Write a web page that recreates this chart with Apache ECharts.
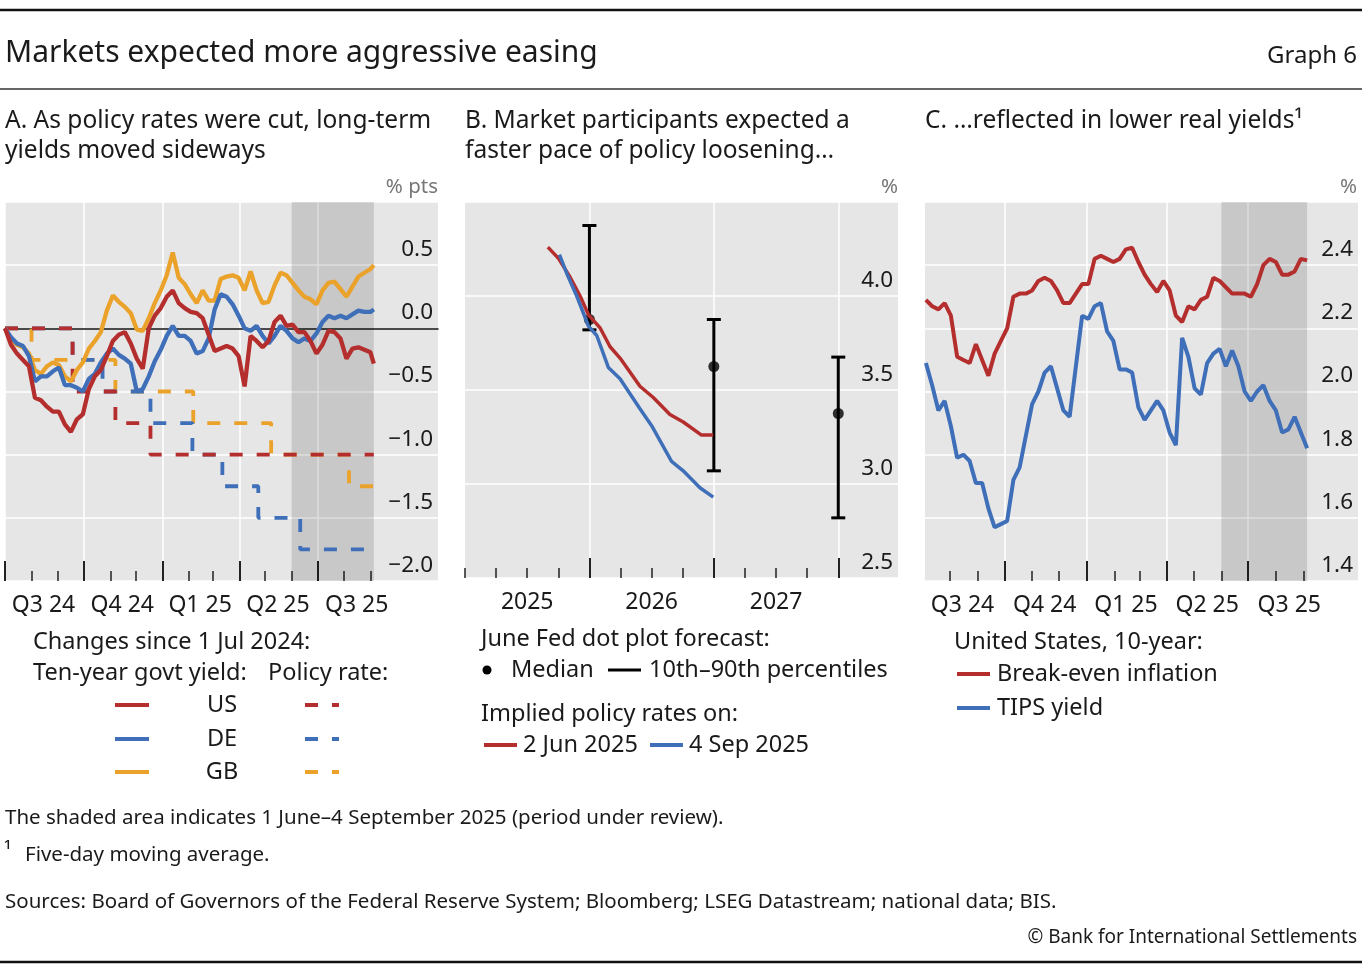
<!DOCTYPE html>
<html>
<head>
<meta charset="utf-8">
<script src="https://cdn.jsdelivr.net/npm/echarts@6/dist/echarts.min.js"></script>
<style>
html, body { margin: 0; padding: 0; background: #fff; }
#main { width: 1362px; height: 970px; }
</style>
</head>
<body>
<div id="main"></div>
<script>
var FONT = '"Noto Sans", "Open Sans", sans-serif';
var RED = '#b52e2e', BLUE = '#3e6fb8', ORANGE = '#eaa22b';
var INK = '#1a1a1a';

//A. 十年期国债收益率变化（周度，自2024-07-01起）
var yieldStart = '2024-07-01';
var yieldLast = '2025-09-05';
var usYield = [0.0, -0.13, -0.2, -0.25, -0.3, -0.55, -0.57, -0.62, -0.66, -0.66,
    -0.76, -0.82, -0.72, -0.68, -0.48, -0.38, -0.33, -0.22, -0.1, -0.05,
    -0.03, -0.12, -0.24, -0.32, 0.0, 0.1, 0.16, 0.25, 0.3, 0.2,
    0.16, 0.13, 0.12, 0.08, -0.05, -0.18, -0.16, -0.14, -0.16, -0.22,
    -0.46, -0.06, -0.1, -0.15, -0.1, 0.05, 0.1, 0.02, 0.03, -0.03,
    -0.03, -0.1, -0.2, -0.13, -0.02, -0.03, -0.08, -0.24, -0.16, -0.15,
    -0.17, -0.19, -0.28];
var deYield = [0, -0.07, -0.12, -0.14, -0.22, -0.42, -0.38, -0.38, -0.34, -0.31,
    -0.45, -0.45, -0.47, -0.5, -0.4, -0.36, -0.27, -0.2, -0.16, -0.21,
    -0.24, -0.28, -0.5, -0.48, -0.38, -0.26, -0.17, -0.06, 0.02, -0.06,
    -0.06, -0.1, -0.2, -0.18, -0.08, 0.15, 0.27, 0.25, 0.19, 0.1,
    0.0, -0.02, 0.02, -0.06, -0.12, -0.06, 0.02, -0.02, -0.08, -0.11,
    -0.08, -0.1, -0.04, 0.05, 0.1, 0.08, 0.1, 0.08, 0.11, 0.14,
    0.13, 0.13, 0.15];
var gbYield = [0, -0.09, -0.13, -0.15, -0.2, -0.33, -0.36, -0.3, -0.27, -0.29,
    -0.38, -0.42, -0.33, -0.27, -0.16, -0.1, -0.03, 0.14, 0.26, 0.21,
    0.17, 0.12, -0.01, -0.02, 0.08, 0.2, 0.3, 0.42, 0.6, 0.4,
    0.35, 0.27, 0.2, 0.3, 0.22, 0.22, 0.39, 0.41, 0.42, 0.4,
    0.3, 0.45, 0.3, 0.2, 0.21, 0.34, 0.44, 0.42, 0.36, 0.3,
    0.25, 0.23, 0.19, 0.3, 0.36, 0.37, 0.31, 0.25, 0.33, 0.41,
    0.44, 0.47, 0.5];

//政策利率变化（阶梯）
var usRateDates = ['2024-07-01', '2024-09-18', '2024-11-07', '2024-12-18', '2025-09-05'];
var usRate = [0, -0.5, -0.75, -1.0, -1.0];
var deRateDates = ['2024-07-01', '2024-09-18', '2024-10-23', '2024-12-18', '2025-02-05', '2025-03-12', '2025-04-23', '2025-06-11', '2025-09-05'];
var deRate = [0, -0.25, -0.5, -0.75, -1.0, -1.25, -1.5, -1.75, -1.75];
var gbRateDates = ['2024-07-01', '2024-08-01', '2024-11-07', '2025-02-06', '2025-05-08', '2025-08-07', '2025-09-05'];
var gbRate = [0, -0.25, -0.5, -0.75, -1.0, -1.25, -1.25];

//B. 联储点阵图与隐含政策利率
var dotX = [2026, 2027, 2028];
var dotMedian = [3.875, 3.625, 3.375];
var dotP10 = [3.82, 3.07, 2.82];
var dotP90 = [4.375, 3.875, 3.675];
var implJunX = [2025.666, 2025.751, 2025.845, 2025.925, 2025.992, 2026.086, 2026.166, 2026.246, 2026.406, 2026.513, 2026.647, 2026.754, 2026.901, 2026.995];
var implJun = [4.26, 4.20, 4.10, 4.0, 3.9, 3.83, 3.73, 3.67, 3.52, 3.46, 3.37, 3.33, 3.26, 3.26];
var implSepX = [2025.759, 2025.818, 2025.898, 2025.992, 2026.059, 2026.152, 2026.246, 2026.406, 2026.5, 2026.66, 2026.754, 2026.888, 2026.995];
var implSep = [4.22, 4.12, 4.0, 3.84, 3.79, 3.62, 3.56, 3.40, 3.31, 3.12, 3.07, 2.98, 2.93];

//C. 美国10年期（周度，自2024-07-05起）
var realStart = '2024-07-05';
var beInfl = [2.29, 2.27, 2.26, 2.28, 2.24, 2.11, 2.1, 2.09, 2.15, 2.1,
    2.05, 2.12, 2.16, 2.2, 2.3, 2.31, 2.31, 2.32, 2.35, 2.36,
    2.35, 2.32, 2.28, 2.28, 2.31, 2.34, 2.34, 2.42, 2.43, 2.42,
    2.41, 2.42, 2.45, 2.455, 2.41, 2.37, 2.34, 2.315, 2.35, 2.32,
    2.24, 2.22, 2.27, 2.26, 2.29, 2.3, 2.36, 2.35, 2.33, 2.31,
    2.31, 2.31, 2.3, 2.34, 2.4, 2.42, 2.41, 2.37, 2.37, 2.38,
    2.42, 2.415];
var tipsYield = [2.09, 2.02, 1.94, 1.97, 1.89, 1.79, 1.8, 1.78, 1.71, 1.71,
    1.63, 1.57, 1.58, 1.59, 1.72, 1.76, 1.86, 1.96, 2.0, 2.06,
    2.08, 2.01, 1.94, 1.92, 2.08, 2.24, 2.23, 2.27, 2.28, 2.19,
    2.16, 2.07, 2.07, 2.06, 1.95, 1.91, 1.94, 1.97, 1.94, 1.87,
    1.83, 2.17, 2.11, 2.01, 1.99, 2.09, 2.12, 2.135, 2.08, 2.13,
    2.08, 2.0, 1.97, 2.0, 2.02, 1.97, 1.94, 1.87, 1.88, 1.92,
    1.87, 1.82];

//坐标轴刻度
var quarterStarts = ['2024-07-01', '2024-10-01', '2025-01-01', '2025-04-01', '2025-07-01'];
var monthStarts = ['2024-08-01', '2024-09-01', '2024-11-01', '2024-12-01', '2025-02-01', '2025-03-01',
    '2025-05-01', '2025-06-01', '2025-08-01', '2025-09-01'];
var quarterMids = ['2024-08-15', '2024-11-15', '2025-02-14', '2025-05-16', '2025-08-16'];
var yearTicks = [2026, 2027, 2028];
var quarterTicksB = [2025, 2025.25, 2025.5, 2025.75, 2026.25, 2026.5, 2026.75, 2027.25, 2027.5, 2027.75];
var yearMids = [2025.5, 2026.5, 2027.5];
var reviewStart = '2025-06-01', reviewEnd = '2025-09-05';

function d(s) {
    var p = s.split('-');
    return new Date(+p[0], +p[1] - 1, +p[2]).getTime();
}

function weekly(start, n) {
    var out = [];
    var t0 = d(start);
    for (var i = 0; i < n; i++) {
        out.push(t0 + i * 7 * 86400000);
    }
    return out;
}

function pairs(xs, ys) {
    return xs.map(function (x, i) { return [x, ys[i]]; });
}

var yieldDates = weekly(yieldStart, usYield.length);
yieldDates[yieldDates.length - 1] = d(yieldLast);
var realDates = weekly(realStart, beInfl.length);

function qLabel(v) {
    var dt = new Date(v);
    return 'Q' + (Math.floor(dt.getMonth() / 3) + 1) + ' ' + String(dt.getFullYear()).slice(2);
}

function fmt(dec) {
    return function (v) { return v.toFixed(dec).replace('-', '\u2212'); };
}

var labelStyle = { color: INK, fontSize: 23, fontFamily: FONT };

// 时间用毫秒数放在数值轴上；第一根轴放标签和短刻度，第二根轴放长刻度和网格线
function xAxes(gridIndex, min, max, majors, minors, mids, formatter) {
    return [{
        type: 'value', gridIndex: gridIndex, position: 'bottom', min: min, max: max,
        axisLine: { show: false, onZero: false },
        axisTick: { show: true, inside: true, length: 10, lineStyle: { color: '#222', width: 1.5 }, customValues: minors },
        axisLabel: Object.assign({ customValues: mids, formatter: formatter, margin: 13, hideOverlap: false }, labelStyle),
        splitLine: { show: false },
        minorTick: { show: false }
    }, {
        type: 'value', gridIndex: gridIndex, position: 'bottom', min: min, max: max,
        axisLine: { show: false, onZero: false },
        axisTick: { show: true, inside: true, length: 20, lineStyle: { color: '#222', width: 2 }, customValues: majors },
        axisLabel: { show: false },
        splitLine: { show: true, lineStyle: { color: '#fff', width: 1.5 } }
    }];
}

// A 面板的零线：只画轴线，放在 y=0 处
function zeroAxis(gridIndex, min, max) {
    return {
        type: 'value', gridIndex: gridIndex, position: 'bottom', min: min, max: max,
        axisLine: { show: true, onZero: true, lineStyle: { color: '#111', width: 1.5 } },
        axisTick: { show: false }, axisLabel: { show: false }, splitLine: { show: false }
    };
}

function yAxis(gridIndex, min, max, interval, dec) {
    return {
        type: 'value', gridIndex: gridIndex, position: 'right', min: min, max: max, interval: interval,
        axisLine: { show: false, onZero: false }, axisTick: { show: false },
        splitLine: { show: true, lineStyle: { color: '#fff', width: 1.5 } },
        axisLabel: {
            inside: true, showMaxLabel: false, margin: 5, fontSize: 22.5, color: INK, fontFamily: FONT,
            verticalAlign: 'bottom', padding: [0, 0, 4, 0], formatter: fmt(dec)
        }
    };
}

var shade = {
    silent: true,
    itemStyle: { color: 'rgba(0,0,0,0.13)' },
    data: [[{ xAxis: d(reviewStart) }, { xAxis: d(reviewEnd) }]]
};

function solid(name, xi, yi, data, color, w) {
    return {
        name: name, type: 'line', xAxisIndex: xi, yAxisIndex: yi, data: data,
        showSymbol: false, symbol: 'none', lineStyle: { color: color, width: w || 4 }
    };
}

function stepped(name, dates, vals, color) {
    return {
        name: name, type: 'line', xAxisIndex: 0, yAxisIndex: 0, step: 'end',
        data: pairs(dates.map(d), vals), symbol: 'none',
        lineStyle: { color: color, width: 3.8, type: [13, 14] }
    };
}

var series = [];

//A 面板
var gbStep = stepped('GB policy', gbRateDates, gbRate, ORANGE);
gbStep.markArea = shade;
series.push(gbStep);
series.push(stepped('DE policy', deRateDates, deRate, BLUE));
series.push(stepped('US policy', usRateDates, usRate, RED));
series.push(solid('GB', 0, 0, pairs(yieldDates, gbYield), ORANGE, 4.3));
series.push(solid('DE', 0, 0, pairs(yieldDates, deYield), BLUE, 4.3));
series.push(solid('US', 0, 0, pairs(yieldDates, usYield), RED, 4.3));

//B 面板
series.push(solid('2 Jun 2025', 2, 1, pairs(implJunX, implJun), RED, 3.5));
series.push(solid('4 Sep 2025', 2, 1, pairs(implSepX, implSep), BLUE, 3.5));
series.push({
    name: '10th–90th percentiles', type: 'custom', xAxisIndex: 2, yAxisIndex: 1,
    data: dotX.map(function (x, i) { return [x, dotP10[i], dotP90[i]]; }),
    encode: { x: 0, y: [1, 2] },
    renderItem: function (params, api) {
        var lo = api.coord([api.value(0), api.value(1)]);
        var hi = api.coord([api.value(0), api.value(2)]);
        var w = 7;
        var st = { stroke: '#000', lineWidth: 3 };
        return {
            type: 'group', children: [
                { type: 'line', shape: { x1: lo[0], y1: lo[1], x2: hi[0], y2: hi[1] }, style: st },
                { type: 'line', shape: { x1: lo[0] - w, y1: lo[1], x2: lo[0] + w, y2: lo[1] }, style: st },
                { type: 'line', shape: { x1: hi[0] - w, y1: hi[1], x2: hi[0] + w, y2: hi[1] }, style: st }
            ]
        };
    }
});
series.push({
    name: 'Median', type: 'scatter', xAxisIndex: 2, yAxisIndex: 1,
    data: pairs(dotX, dotMedian), symbolSize: 11, itemStyle: { color: '#000' }
});

//C 面板
var beLine = solid('Break-even inflation', 4, 2, pairs(realDates, beInfl), RED);
beLine.markArea = shade;
series.push(beLine);
series.push(solid('TIPS yield', 4, 2, pairs(realDates, tipsYield), BLUE));

//文字与图例
function txt(x, y, s, size, opt) {
    opt = opt || {};
    return {
        type: 'text', x: x, y: y, silent: true,
        style: {
            text: s, fill: opt.fill || INK, fontSize: size, fontFamily: FONT,
            align: opt.align || 'left', verticalAlign: 'middle'
        }
    };
}
function seg(x1, y, x2, color, w, dash) {
    return {
        type: 'line', silent: true, shape: { x1: x1, y1: y, x2: x2, y2: y },
        style: { stroke: color, lineWidth: w || 4, lineDash: dash || null }
    };
}

var LG = 23.5, PT = 24.5;
var graphics = [
    seg(0, 10, 1362, '#111', 2.5),
    seg(0, 89, 1362, '#333', 1.5),
    seg(0, 962, 1362, '#111', 2.5),
    txt(5, 53, 'Markets expected more aggressive easing', 30),
    txt(1357, 56, 'Graph 6', 24, { align: 'right' }),

    txt(5, 121, 'A. As policy rates were cut, long-term', PT),
    txt(5, 151, 'yields moved sideways', PT),
    txt(465, 121, 'B. Market participants expected a', PT),
    txt(465, 151, 'faster pace of policy loosening…', PT),
    txt(925, 121, 'C. …reflected in lower real yields¹', PT),
    txt(438, 187, '% pts', 20.5, { align: 'right', fill: '#777' }),
    txt(898, 187, '%', 20.5, { align: 'right', fill: '#777' }),
    txt(1357, 187, '%', 20.5, { align: 'right', fill: '#777' }),

    txt(33, 642, 'Changes since 1 Jul 2024:', LG),
    txt(33, 673, 'Ten-year govt yield:', LG),
    txt(268, 673, 'Policy rate:', LG),
    seg(115, 705, 149, RED), txt(222, 705, 'US', LG, { align: 'center' }), seg(305, 705, 339, RED, 4, [13, 14]),
    seg(115, 739, 149, BLUE), txt(222, 739, 'DE', LG, { align: 'center' }), seg(305, 739, 339, BLUE, 4, [13, 14]),
    seg(115, 772, 149, ORANGE), txt(222, 772, 'GB', LG, { align: 'center' }), seg(305, 772, 339, ORANGE, 4, [13, 14]),

    txt(481, 639, 'June Fed dot plot forecast:', LG),
    { type: 'circle', silent: true, shape: { cx: 487, cy: 670, r: 4.5 }, style: { fill: '#000' } },
    txt(511, 670, 'Median', LG),
    seg(608, 670, 641, '#000', 3),
    txt(649, 670, '10th–90th percentiles', LG),
    txt(481, 714, 'Implied policy rates on:', LG),
    seg(484, 745, 517, RED), txt(523, 745, '2 Jun 2025', LG),
    seg(650, 745, 683, BLUE), txt(689, 745, '4 Sep 2025', LG),

    txt(954, 642, 'United States, 10-year:', LG),
    seg(957, 674, 990, RED), txt(997, 674, 'Break-even inflation', LG),
    seg(957, 708, 990, BLUE), txt(997, 708, 'TIPS yield', LG),

    txt(5, 818, 'The shaded area indicates 1 June–4 September 2025 (period under review).', 20.5),
    txt(4, 852, '¹', 21),
    txt(25, 855, 'Five-day moving average.', 20.5),
    txt(5, 902, 'Sources: Board of Governors of the Federal Reserve System; Bloomberg; LSEG Datastream; national data; BIS.', 20.5),
    txt(1357, 938, '© Bank for International Settlements', 19, { align: 'right' })
];

var gridBase = { show: true, backgroundColor: '#e6e6e6', borderWidth: 0, outerBoundsMode: 'none' };

var aMin = d('2024-07-01'), aMax = d('2025-11-19');
var option = {
    animation: false,
    backgroundColor: '#fff',
    textStyle: { fontFamily: FONT },
    grid: [
        Object.assign({ left: 5, top: 202, width: 433, height: 379 }, gridBase),
        Object.assign({ left: 465, top: 202, width: 433, height: 376 }, gridBase),
        Object.assign({ left: 925, top: 202, width: 433, height: 379 }, gridBase)
    ],
    xAxis: [].concat(
        xAxes(0, aMin, aMax, quarterStarts.map(d), monthStarts.map(d), quarterMids.map(d), qLabel),
        xAxes(1, 2025, 2028.48, yearTicks, quarterTicksB, yearMids, function (v) { return String(Math.floor(v)); }),
        xAxes(2, d('2024-07-04'), d('2025-11-01'), quarterStarts.slice(1).map(d), monthStarts.map(d), quarterMids.map(d), qLabel),
        [zeroAxis(0, aMin, aMax)]
    ),
    yAxis: [
        yAxis(0, -2, 1, 0.5, 1),
        yAxis(1, 2.5, 4.5, 0.5, 1),
        yAxis(2, 1.4, 2.6, 0.2, 1)
    ],
    series: series,
    graphic: graphics
};

var myChart = echarts.init(document.getElementById('main'));
myChart.setOption(option);
</script>
</body>
</html>
